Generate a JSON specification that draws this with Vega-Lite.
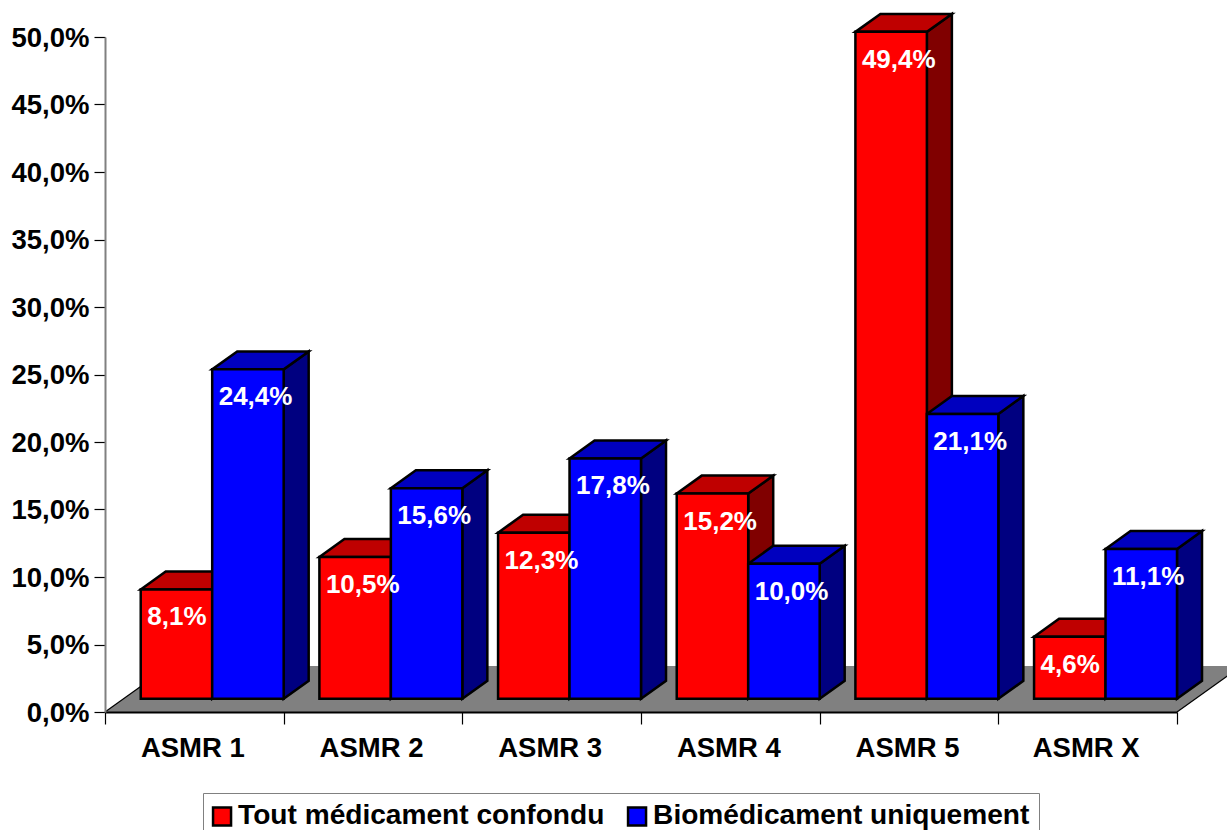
{
  "$schema": "https://vega.github.io/schema/vega-lite/v6.json",
  "width": 1072,
  "height": 675,
  "padding": {"left": 105, "top": 37, "right": 50, "bottom": 118},
  "autosize": {"type": "none"},
  "background": "white",
  "config": {
    "view": {"stroke": null},
    "font": "Liberation Sans"
  },
  "datasets": {
    "parts": [
      {"asmr": "ASMR 1", "serie": "Tout médicament confondu", "value": 8.1},
      {"asmr": "ASMR 1", "serie": "Biomédicament uniquement", "value": 24.4},
      {"asmr": "ASMR 2", "serie": "Tout médicament confondu", "value": 10.5},
      {"asmr": "ASMR 2", "serie": "Biomédicament uniquement", "value": 15.6},
      {"asmr": "ASMR 3", "serie": "Tout médicament confondu", "value": 12.3},
      {"asmr": "ASMR 3", "serie": "Biomédicament uniquement", "value": 17.8},
      {"asmr": "ASMR 4", "serie": "Tout médicament confondu", "value": 15.2},
      {"asmr": "ASMR 4", "serie": "Biomédicament uniquement", "value": 10.0},
      {"asmr": "ASMR 5", "serie": "Tout médicament confondu", "value": 49.4},
      {"asmr": "ASMR 5", "serie": "Biomédicament uniquement", "value": 21.1},
      {"asmr": "ASMR X", "serie": "Tout médicament confondu", "value": 4.6},
      {"asmr": "ASMR X", "serie": "Biomédicament uniquement", "value": 11.1}
    ]
  },
  "data": {"name": "parts"},
  "transform": [
    {"calculate": "indexof(['ASMR 1','ASMR 2','ASMR 3','ASMR 4','ASMR 5','ASMR X'], datum.asmr)", "as": "rang"},
    {"calculate": "datum.serie === 'Tout médicament confondu' ? 0 : 1", "as": "s"},
    {"calculate": "datum.rang + 0.2 + 0.4 * datum.s", "as": "xl"},
    {"calculate": "datum.xl + 0.4", "as": "xr"},
    {"calculate": "0.98", "as": "base"},
    {"calculate": "datum.base + datum.value", "as": "sommet"}
  ],
  "layer": [
    {
      "description": "Plancher gris de la vue en perspective",
      "transform": [
        {"aggregate": [{"op": "min", "field": "rang", "as": "a"}, {"op": "max", "field": "rang", "as": "b"}]},
        {"calculate": "[0,1,2,3]", "as": "k"},
        {"flatten": ["k"]},
        {"calculate": "datum.k === 0 ? datum.a : datum.k === 1 ? datum.a + 0.36 : datum.k === 2 ? datum.b + 1 : datum.b + 1.36", "as": "px"},
        {"calculate": "datum.k === 3 ? 3.41 : 0", "as": "bas"},
        {"calculate": "datum.k === 0 ? 0 : 3.41", "as": "haut"}
      ],
      "mark": {"type": "area", "fill": "#808080", "stroke": null, "opacity": 1},
      "encoding": {
        "x": {
          "field": "px", "type": "quantitative",
          "scale": {"domain": [0, 6], "nice": false, "zero": false},
          "axis": {
            "title": null, "values": [0, 1, 2, 3, 4, 5, 6], "labels": false, "grid": false,
            "tickSize": 12, "tickColor": "#000000", "tickWidth": 1.2,
            "domainColor": "#000000", "domainWidth": 2, "zindex": 1
          }
        },
        "y": {
          "field": "bas", "type": "quantitative",
          "scale": {"domain": [0, 50], "nice": false, "zero": false},
          "axis": {
            "title": null, "values": [0, 5, 10, 15, 20, 25, 30, 35, 40, 45, 50], "grid": false,
            "labelExpr": "replace(format(datum.value, '.1f'), '.', ',') + '%'",
            "labelFont": "Liberation Sans", "labelFontWeight": "bold", "labelFontSize": 27.5,
            "labelColor": "#000000", "labelPadding": 5, "labelOverlap": false, "labelOffset": 1,
            "tickSize": 11, "tickColor": "#000000", "tickWidth": 1.2,
            "domainColor": "#808080", "domainWidth": 2, "zindex": 1
          }
        },
        "y2": {"field": "haut"}
      }
    },
    {
      "description": "Arêtes obliques du plancher",
      "transform": [
        {"aggregate": [{"op": "min", "field": "rang", "as": "a"}, {"op": "max", "field": "rang", "as": "b"}]},
        {"calculate": "[datum.a, datum.b + 1]", "as": "bord"},
        {"flatten": ["bord"]},
        {"calculate": "datum.bord + 0.36", "as": "bord2"},
        {"calculate": "0", "as": "y0"},
        {"calculate": "3.41", "as": "y1"}
      ],
      "mark": {"type": "rule", "stroke": "#000000", "strokeWidth": 1.2},
      "encoding": {
        "x": {"field": "bord", "type": "quantitative", "axis": {"title": null}},
        "x2": {"field": "bord2"},
        "y": {"field": "y0", "type": "quantitative", "axis": {"title": null}},
        "y2": {"field": "y1"}
      }
    },
    {
      "description": "Faces latérales, série rouge",
      "transform": [
        {"filter": "datum.s === 0"},
        {"calculate": "[0,1]", "as": "k"},
        {"flatten": ["k"]},
        {"calculate": "datum.xr + datum.k * 0.14", "as": "px"},
        {"calculate": "datum.base + datum.k * 1.33", "as": "bas"},
        {"calculate": "datum.sommet + datum.k * 1.33", "as": "haut"}
      ],
      "mark": {"type": "area", "fill": "#800000", "stroke": "#000000", "strokeWidth": 2.5, "opacity": 1},
      "encoding": {
        "x": {"field": "px", "type": "quantitative", "axis": {"title": null}},
        "y": {"field": "bas", "type": "quantitative", "axis": {"title": null}},
        "y2": {"field": "haut"},
        "detail": {"field": "asmr"}
      }
    },
    {
      "description": "Faces supérieures, série rouge",
      "transform": [
        {"filter": "datum.s === 0"},
        {"calculate": "[0,1,2,3]", "as": "k"},
        {"flatten": ["k"]},
        {"calculate": "datum.k === 0 ? datum.xl : datum.k === 1 ? datum.xl + 0.14 : datum.k === 2 ? datum.xr : datum.xr + 0.14", "as": "px"},
        {"calculate": "datum.k === 3 ? datum.sommet + 1.33 : datum.sommet", "as": "bas"},
        {"calculate": "datum.k === 0 ? datum.sommet : datum.sommet + 1.33", "as": "haut"}
      ],
      "mark": {"type": "area", "fill": "#BF0000", "stroke": "#000000", "strokeWidth": 2.5, "opacity": 1},
      "encoding": {
        "x": {"field": "px", "type": "quantitative", "axis": {"title": null}},
        "y": {"field": "bas", "type": "quantitative", "axis": {"title": null}},
        "y2": {"field": "haut"},
        "detail": {"field": "asmr"}
      }
    },
    {
      "description": "Faces latérales, série bleue",
      "transform": [
        {"filter": "datum.s === 1"},
        {"calculate": "[0,1]", "as": "k"},
        {"flatten": ["k"]},
        {"calculate": "datum.xr + datum.k * 0.14", "as": "px"},
        {"calculate": "datum.base + datum.k * 1.33", "as": "bas"},
        {"calculate": "datum.sommet + datum.k * 1.33", "as": "haut"}
      ],
      "mark": {"type": "area", "fill": "#000080", "stroke": "#000000", "strokeWidth": 2.5, "opacity": 1},
      "encoding": {
        "x": {"field": "px", "type": "quantitative", "axis": {"title": null}},
        "y": {"field": "bas", "type": "quantitative", "axis": {"title": null}},
        "y2": {"field": "haut"},
        "detail": {"field": "asmr"}
      }
    },
    {
      "description": "Faces supérieures, série bleue",
      "transform": [
        {"filter": "datum.s === 1"},
        {"calculate": "[0,1,2,3]", "as": "k"},
        {"flatten": ["k"]},
        {"calculate": "datum.k === 0 ? datum.xl : datum.k === 1 ? datum.xl + 0.14 : datum.k === 2 ? datum.xr : datum.xr + 0.14", "as": "px"},
        {"calculate": "datum.k === 3 ? datum.sommet + 1.33 : datum.sommet", "as": "bas"},
        {"calculate": "datum.k === 0 ? datum.sommet : datum.sommet + 1.33", "as": "haut"}
      ],
      "mark": {"type": "area", "fill": "#0000BF", "stroke": "#000000", "strokeWidth": 2.5, "opacity": 1},
      "encoding": {
        "x": {"field": "px", "type": "quantitative", "axis": {"title": null}},
        "y": {"field": "bas", "type": "quantitative", "axis": {"title": null}},
        "y2": {"field": "haut"},
        "detail": {"field": "asmr"}
      }
    },
    {
      "description": "Faces avant des barres, avec la légende des deux séries",
      "mark": {"type": "rect", "stroke": "#000000", "strokeWidth": 2.5, "opacity": 1},
      "encoding": {
        "x": {"field": "xl", "type": "quantitative", "axis": {"title": null}},
        "x2": {"field": "xr"},
        "y": {"field": "sommet", "type": "quantitative", "axis": {"title": null}},
        "y2": {"field": "base"},
        "color": {
          "field": "serie", "type": "nominal",
          "scale": {
            "domain": ["Tout médicament confondu", "Biomédicament uniquement"],
            "range": ["#FF0000", "#0000FF"]
          },
          "legend": {
            "title": null, "orient": "none", "legendX": 98, "legendY": 756,
            "columns": 2, "direction": "horizontal", "columnPadding": 18,
            "symbolType": "square", "symbolSize": 324, "symbolStrokeColor": "#000000", "symbolStrokeWidth": 2.5,
            "symbolOpacity": 1, "symbolOffset": -4,
            "labelFont": "Liberation Sans", "labelFontWeight": "bold", "labelFontSize": 28.1,
            "labelColor": "#000000", "labelOffset": 2, "labelLimit": 500,
            "fillColor": "#FFFFFF", "strokeColor": "#808080", "padding": 9
          }
        }
      }
    },
    {
      "description": "Valeurs écrites en blanc dans les barres",
      "transform": [
        {"calculate": "replace(format(datum.value, '.1f'), '.', ',') + '%'", "as": "etiquette"}
      ],
      "mark": {
        "type": "text", "font": "Liberation Sans", "fontWeight": "bold", "fontSize": 26,
        "color": "#FFFFFF", "align": "left", "baseline": "middle", "dx": 6.5, "dy": 28
      },
      "encoding": {
        "x": {"field": "xl", "type": "quantitative", "axis": {"title": null}},
        "y": {"field": "sommet", "type": "quantitative", "axis": {"title": null}},
        "text": {"field": "etiquette", "type": "nominal"}
      }
    },
    {
      "description": "Noms des catégories sous l'axe horizontal",
      "transform": [
        {"filter": "datum.s === 0"},
        {"calculate": "datum.rang + 0.5", "as": "centre"},
        {"calculate": "0", "as": "zero"}
      ],
      "mark": {
        "type": "text", "font": "Liberation Sans", "fontWeight": "bold", "fontSize": 27.5,
        "color": "#000000", "align": "center", "baseline": "middle", "dx": -1.5, "dy": 37
      },
      "encoding": {
        "x": {"field": "centre", "type": "quantitative", "axis": {"title": null}},
        "y": {"field": "zero", "type": "quantitative", "axis": {"title": null}},
        "text": {"field": "asmr", "type": "nominal"}
      }
    }
  ]
}
